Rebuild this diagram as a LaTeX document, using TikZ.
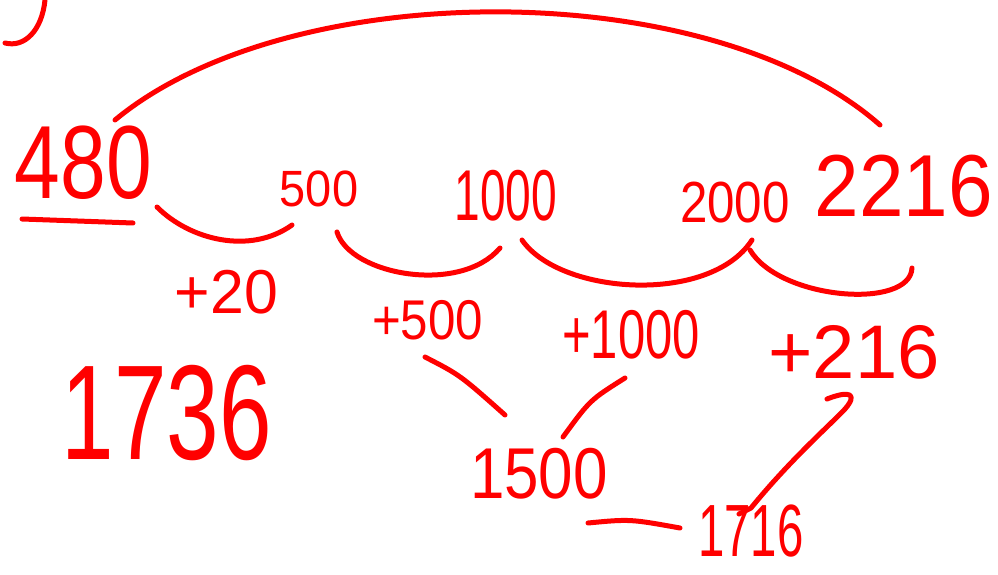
\documentclass[tikz,border=0pt]{standalone}
\usepackage{fontspec}
\setmainfont{Liberation Sans}
\definecolor{ink}{RGB}{255,0,0}
\newcommand{\hw}[3]{{\fontsize{#1}{#1}\selectfont\scalebox{#2}[1]{#3}}}
\begin{document}
\begin{tikzpicture}[x=1pt,y=-1pt,
  stroke/.style={draw=ink,line width=5pt,line cap=round,line join=round},
  num/.style={text=ink,inner sep=0pt,anchor=center}]
\useasboundingbox (0,0) rectangle (998,575);
\fill[white] (0,0) rectangle (998,575);
% numbers
\node[num] (n480)  at (83.5,162.5) {\hw{104}{0.79}{480}};
\node[num] (n500)  at (319,188.5)  {\hw{51}{0.92}{500}};
\node[num] (n1000) at (506,196)    {\hw{72}{0.64}{1000}};
\node[num] (n2000) at (735,203)    {\hw{58}{0.85}{2000}};
\node[num] (n2216) at (904,186.5)  {\hw{88}{0.91}{2216}};
\node[num] (p20)   at (226.5,292.5){\hw{62}{0.98}{+20}};
\node[num] (p500)  at (427.5,320)  {\hw{56}{0.88}{+500}};
\node[num] (p1000) at (631,335)    {\hw{69}{0.71}{+1000}};
\node[num] (p216)  at (854,352.5)  {\hw{76}{1.0}{+216}};
\node[num] (n1736) at (167,413.5)  {\hw{135}{0.70}{1736}};
\node[num] (n1500) at (539,474)    {\hw{72}{0.86}{1500}};
\node[num] (n1716) at (751,531)    {\hw{74}{0.64}{1716}};
% strokes
\draw[stroke] (45,0) .. controls (42,30) and (25,48) .. (5,43);
\draw[stroke] (115,120) .. controls (290,-25) and (710,-25) .. (880,125);
\draw[stroke] (22,219) -- (133,223);
\draw[stroke] (157,207) .. controls (190,240) and (250,255) .. (292,225);
\draw[stroke] (337,232) .. controls (350,275) and (460,295) .. (500,248);
\draw[stroke] (522,240) .. controls (560,295) and (710,305) .. (752,240);
\draw[stroke] (750,250) .. controls (780,300) and (910,310) .. (912,268);
\draw[stroke] (425,357) .. controls (460,375) .. (505,415);
\draw[stroke] (563,437) .. controls (590,400) .. (625,378);
\draw[stroke] (588,523) .. controls (630,519) .. (680,528);
\draw[stroke] (739,514) -- (751,508) .. controls (790,460) and (830,425) .. (845,409) .. controls (858,394) and (850,390) .. (827,399);
\end{tikzpicture}
\end{document}
